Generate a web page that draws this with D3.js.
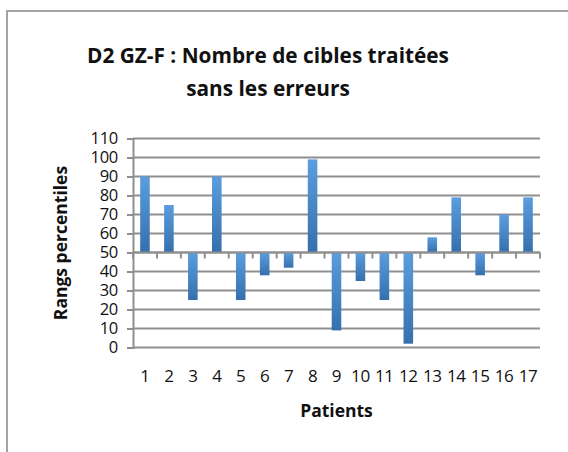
<!DOCTYPE html>
<html>
  <head>
    <meta charset="utf-8">
    <script src="https://d3js.org/d3.v7.min.js"></script>
    <style type="text/css">
body {
  margin: 0;
  background: #fff;
}
svg text {
  font-family: "Open Sans", "Lato", sans-serif;
  fill: #111;
}
    </style>
  </head>
  <body>
    <svg id="chart" width="568" height="452"></svg>
    <script type="text/javascript">
var patients = ["1", "2", "3", "4", "5", "6", "7", "8", "9", "10", "11", "12", "13", "14", "15", "16", "17"];
var rangs = [90, 75, 25, 90, 25, 38, 42, 99, 9, 35, 25, 2, 58, 79, 38, 70, 79];
var yTicks = [0, 10, 20, 30, 40, 50, 60, 70, 80, 90, 100, 110];
var baseline = 50;
var titleLines = ["D2 GZ-F : Nombre de cibles traitées", "sans les erreurs"];

var svg = d3.select("#chart");

// cadre du graphique (seuls bords gauche et haut visibles)
svg.append("path")
    .attr("d", "M7,452V11H568")
    .attr("fill", "none")
    .attr("stroke", "#a3a3a3")
    .attr("stroke-width", 2);

var plotLeft = 133, plotRight = 540, plotTop = 138.5, plotBottom = 347.5;

var x = d3.scaleBand()
    .domain(patients)
    .range([plotLeft, plotRight])
    .paddingInner(0.6)
    .paddingOuter(0.3);

var y = d3.scaleLinear()
    .domain([0, 110])
    .range([plotBottom, plotTop]);

var defs = svg.append("defs");
var grad = defs.append("linearGradient")
    .attr("id", "barGrad")
    .attr("x1", 0).attr("y1", 0).attr("x2", 0).attr("y2", 1);
grad.append("stop").attr("offset", "0%").attr("stop-color", "#5b9dde");
grad.append("stop").attr("offset", "100%").attr("stop-color", "#3570ad");

// quadrillage horizontal
svg.append("g")
  .selectAll("line")
  .data(yTicks)
  .join("line")
    .attr("x1", plotLeft)
    .attr("x2", plotRight)
    .attr("y1", d => y(d))
    .attr("y2", d => y(d))
    .attr("stroke", "#8f8f8f")
    .attr("stroke-width", 2);

// axe vertical
var yAxis = svg.append("g")
    .attr("transform", "translate(" + plotLeft + ",0)")
    .call(d3.axisLeft(y).tickValues(yTicks).tickSize(6).tickPadding(4));
yAxis.select(".domain").attr("stroke", "#8f8f8f").attr("stroke-width", 2);
yAxis.selectAll(".tick line").attr("stroke", "#8f8f8f").attr("stroke-width", 2);
yAxis.selectAll(".tick text")
    .attr("font-size", 16.5)
    .attr("font-family", "'Open Sans', sans-serif")
    .attr("fill", "#111")
    .attr("letter-spacing", -0.3)
    .attr("dx", "-5");

// barres depuis la ligne 50
svg.append("g")
  .selectAll("rect")
  .data(rangs)
  .join("rect")
    .attr("x", (d, i) => x(patients[i]))
    .attr("width", x.bandwidth())
    .attr("y", d => y(Math.max(d, baseline)))
    .attr("height", d => Math.abs(y(d) - y(baseline)))
    .attr("fill", "url(#barGrad)");

// axe horizontal à 50
var xAxis = svg.append("g")
    .attr("transform", "translate(0," + y(baseline) + ")");
xAxis.append("line")
    .attr("x1", plotLeft).attr("x2", plotRight)
    .attr("stroke", "#8f8f8f").attr("stroke-width", 2);
xAxis.selectAll("line.tick")
  .data(d3.range(patients.length + 1))
  .join("line")
    .attr("class", "tick")
    .attr("x1", i => plotLeft + i * (plotRight - plotLeft) / patients.length)
    .attr("x2", i => plotLeft + i * (plotRight - plotLeft) / patients.length)
    .attr("y1", 0).attr("y2", 6)
    .attr("stroke", "#8f8f8f").attr("stroke-width", 2);

// étiquettes des patients
svg.append("g")
  .selectAll("text")
  .data(patients)
  .join("text")
    .attr("x", d => x(d) + x.bandwidth() / 2)
    .attr("y", 382)
    .attr("text-anchor", "middle")
    .attr("font-size", 17)
    .attr("letter-spacing", -0.4)
    .text(d => d);

// titres
svg.append("text")
    .attr("x", 268)
    .attr("y", 63)
    .attr("text-anchor", "middle")
    .attr("font-weight", "bold")
    .attr("font-size", 20.8)
    .text(titleLines[0]);
svg.append("text")
    .attr("x", 268)
    .attr("y", 96)
    .attr("text-anchor", "middle")
    .attr("font-weight", "bold")
    .attr("font-size", 20.8)
    .text(titleLines[1]);

svg.append("text")
    .attr("x", (plotLeft + plotRight) / 2)
    .attr("y", 417)
    .attr("text-anchor", "middle")
    .attr("font-weight", "bold")
    .attr("font-size", 17.5)
    .text("Patients");

svg.append("text")
    .attr("transform", "translate(67,243) rotate(-90)")
    .attr("text-anchor", "middle")
    .attr("font-weight", "bold")
    .attr("font-size", 17.5)
    .text("Rangs percentiles");
    </script>
  </body>
</html>
